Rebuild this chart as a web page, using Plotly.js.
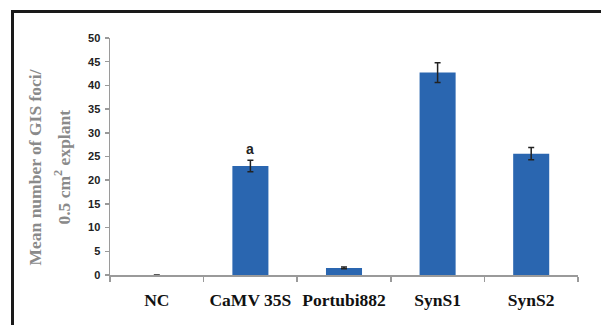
<!DOCTYPE html>
<html>
<head>
<meta charset="utf-8">
<script src="https://cdn.plot.ly/plotly-3.0.1.min.js"></script>
<style>
html,body{margin:0;padding:0;background:#fff;}
#wrap{position:relative;width:601px;height:325px;overflow:hidden;}
#chart{width:601px;height:325px;}
#frame{position:absolute;left:11px;top:10px;width:600px;height:330px;border-top:3px solid #1a1a1a;border-left:3px solid #1a1a1a;pointer-events:none;box-sizing:border-box;}
</style>
</head>
<body>
<div id="wrap">
<div id="chart"></div>
<div id="frame"></div>
</div>
<script>
const categories = ['NC', 'CaMV 35S', 'Portubi882', 'SynS1', 'SynS2'];
const means = [0, 23.0, 1.5, 42.7, 25.6];
const errors = [0, 1.2, 0.2, 2.1, 1.3];
const yTicks = [0, 5, 10, 15, 20, 25, 30, 35, 40, 45, 50];
const yTitleLines = ['Mean number of GIS foci/', '0.5 cm<sup>2</sup> explant'];
const letterCategory = 'CaMV 35S';
const letterText = 'a';

const li = categories.indexOf(letterCategory);

const trace = {
  type: 'bar',
  x: categories,
  y: means,
  marker: {color: '#2a66b0', line: {width: 0}},
  error_y: {type: 'data', array: errors, visible: true, color: '#222', thickness: 1.5, width: 3},
  hoverinfo: 'x+y'
};

const serif = 'Liberation Serif, Times New Roman, serif';
const sans = 'Liberation Sans, Arial, sans-serif';

const layout = {
  width: 601, height: 325,
  margin: {l: 110, r: 23, t: 38, b: 50},
  paper_bgcolor: '#fff', plot_bgcolor: '#fff',
  showlegend: false,
  bargap: 0.615,
  xaxis: {
    type: 'category',
    showline: true, linecolor: '#9a9a9a', linewidth: 1.5,
    ticks: 'outside', tickson: 'boundaries', ticklen: 5, tickcolor: '#9a9a9a', tickwidth: 1.5,
    showgrid: false, zeroline: false,
    tickangle: 0,
    tickfont: {family: serif, size: 17.5, color: '#111', weight: 'bold'},
    ticklabelstandoff: 8
  },
  yaxis: {
    range: [0, 50], tickvals: yTicks, ticktext: yTicks.map(String),
    showline: true, linecolor: '#9a9a9a', linewidth: 1.5,
    ticks: 'outside', ticklen: 4, tickcolor: '#9a9a9a', tickwidth: 1.5,
    showgrid: false, zeroline: false,
    tickfont: {family: sans, size: 11, color: '#222', weight: 'bold'},
    ticklabelstandoff: 2
  },
  annotations: [
    {
      xref: 'paper', yref: 'paper', x: 0, y: 0.5,
      xanchor: 'center', yanchor: 'middle',
      xshift: -76, yshift: -11,
      textangle: -90,
      text: yTitleLines[0],
      showarrow: false,
      font: {family: serif, size: 17.5, color: '#8a8a8a', weight: 'bold'}
    },
    {
      xref: 'paper', yref: 'paper', x: 0, y: 0.5,
      xanchor: 'center', yanchor: 'middle',
      xshift: -48, yshift: -11,
      textangle: -90,
      text: yTitleLines[1],
      showarrow: false,
      font: {family: serif, size: 17.5, color: '#8a8a8a', weight: 'bold'}
    },
    {
      xref: 'x', yref: 'y', x: categories[li], y: means[li] + errors[li],
      xanchor: 'center', yanchor: 'bottom', yshift: 1,
      text: letterText, showarrow: false,
      font: {family: sans, size: 14, color: '#222', weight: 'bold'}
    }
  ]
};

Plotly.newPlot('chart', [trace], layout, {displayModeBar: false, staticPlot: true});
</script>
</body>
</html>
